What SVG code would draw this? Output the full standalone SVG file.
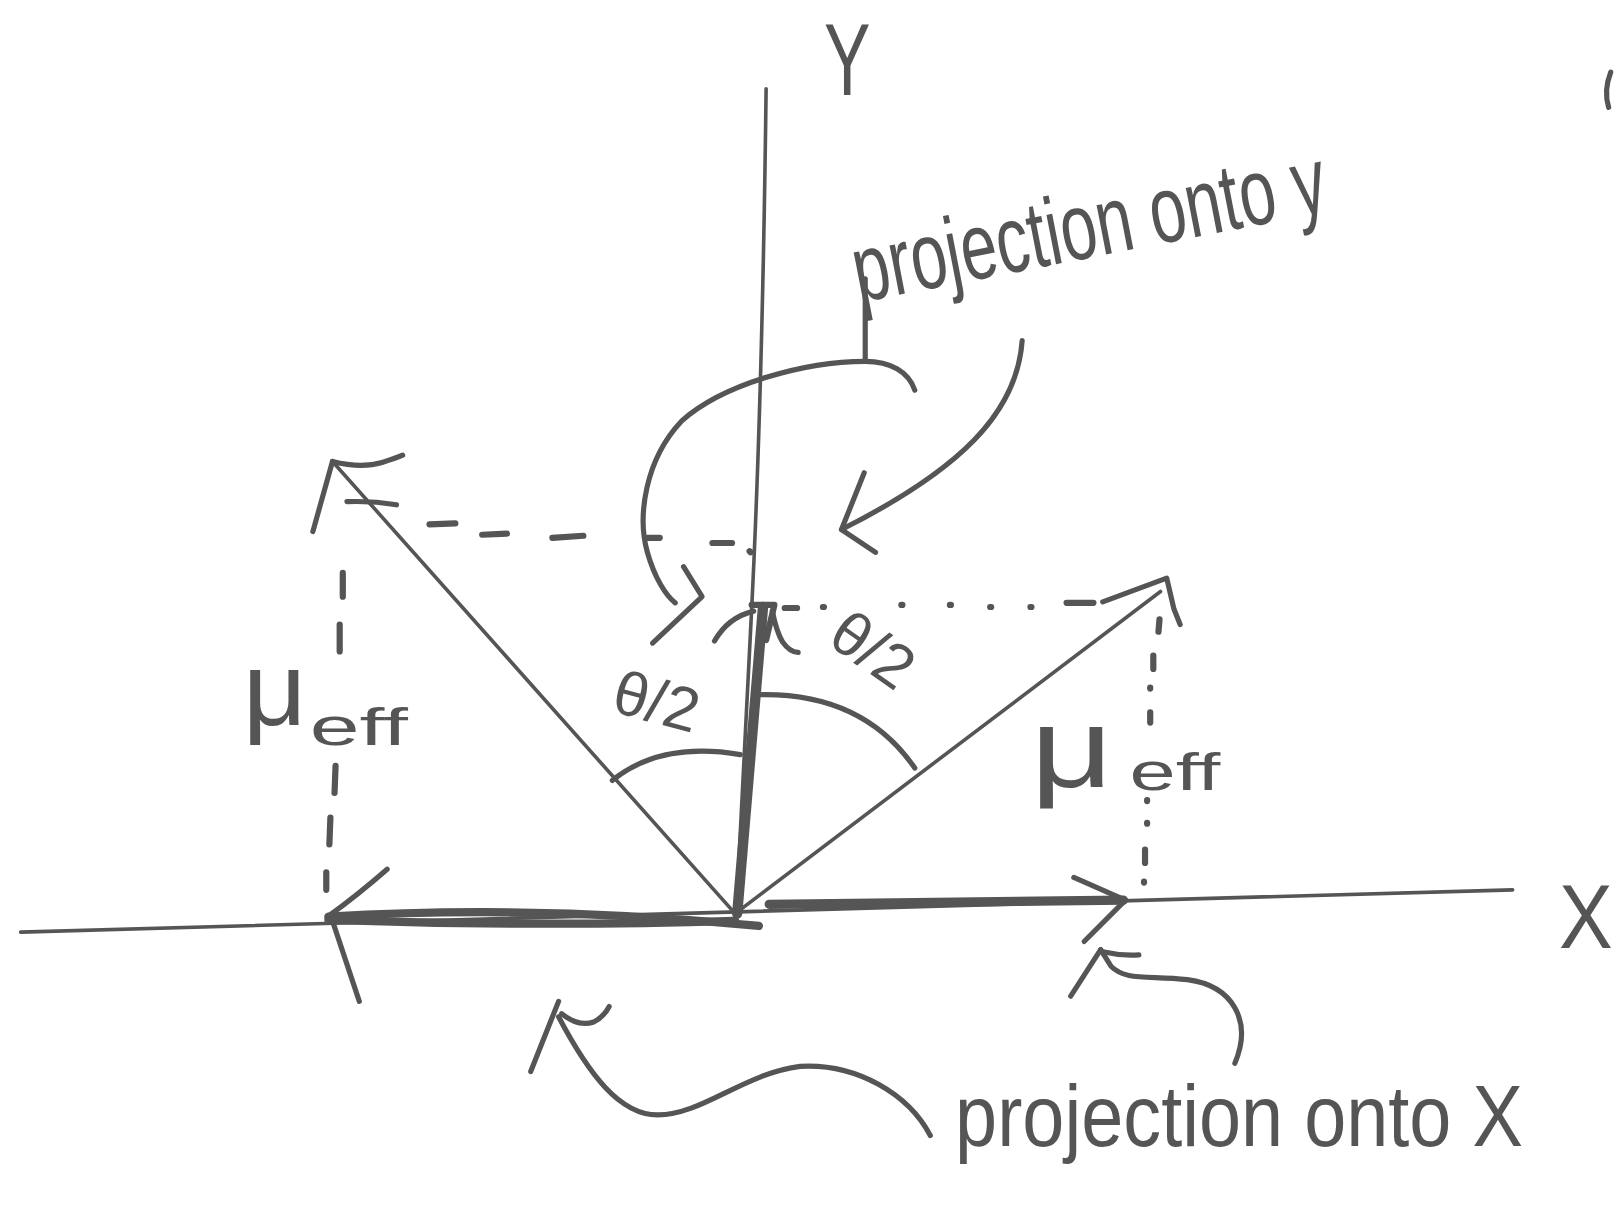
<svg xmlns="http://www.w3.org/2000/svg" width="1619" height="1213" viewBox="0 0 1619 1213">
<style>
.ln{fill:none;stroke:#555;stroke-linecap:round;stroke-linejoin:round}
.thin{stroke-width:3.5}
.med{stroke-width:5}
.thick{stroke-width:10}
.dash{fill:none;stroke:#555;stroke-width:6;stroke-linecap:round}
.hw{font-family:"Liberation Sans","DejaVu Sans",sans-serif;fill:#555}
</style>
<rect width="1619" height="1213" fill="#fff"/>
<g transform="scale(1.0325 1.0323)">
<g id="axes">
<path class="ln thin" d="M742,86 C740,250 735,450 728,590 L713,885"/>
<path class="ln thin" d="M20,903 L1465,862"/>
<text class="hw" x="798" y="92" font-size="98" textLength="45" lengthAdjust="spacingAndGlyphs">Y</text>
<text class="hw" x="1510" y="918" font-size="88" textLength="52" lengthAdjust="spacingAndGlyphs">X</text>
</g>
<g id="y-component">
<path class="ln thick" d="M739,588 L714,885"/>
<path class="ln" stroke-width="6" d="M728,586 L750,586 L742,620"/>
<path class="ln med" d="M692,621 Q705,598 730,592"/>
<path class="ln med" d="M748,592 Q752,612 758,622 Q765,632 773,632"/>
</g>
<g id="x-components">
<path class="ln" stroke-width="8" d="M318,888 Q520,876 735,897"/>
<path class="ln" stroke-width="8" d="M318,891 Q520,898 712,892"/>
<path class="ln med" d="M375,842 Q345,868 320,886 L348,970"/>
<path class="ln" stroke-width="9" d="M745,876 L1088,872"/>
<path class="ln med" d="M1040,850 L1090,872 L1050,912"/>
</g>
<g id="vector-left">
<path class="ln thin" d="M712,885 L322,447"/>
<path class="ln med" d="M322,447 Q350,454 370,448 Q383,444 390,441"/>
<path class="ln med" d="M322,447 L303,515"/>
<path class="ln med" d="M336,486 Q360,485 384,489"/>
</g>
<g id="vector-right">
<path class="ln thin" d="M712,885 L1124,573"/>
<path class="ln med" d="M1068,583 L1130,560 L1137,590 L1143,605"/>
</g>
<g id="projection-lines">
<path class="dash" d="M416,508 L441,507 M467,518 L491,517 M535,521 L565,519 M627,521 L639,521 M690,526 L709,526 M726,534 L727,535"/>
<path class="dash" d="M332,555 L332,578 M329,605 L329,631 M325,742 L324,768 M320,792 L319,818 M316,845 L316,862"/>
<path class="dash" d="M760,589 L772,589 M797,588 L798,588 M873,586 L874,586 M920,586 L921,586 M959,588 L960,588 M998,588 L999,588 M1033,584 L1059,584"/>
<path class="dash" d="M1123,600 L1122,612 M1117,635 L1117,648 M1114,666 L1114,667 M1114,690 L1114,700 M1111,775 L1111,776 M1111,797 L1111,798 M1109,823 L1109,836 M1108,854 L1108,855"/>
</g>
<g id="angles">
<path class="ln med" d="M593,756 Q640,718 717,731"/>
<path class="ln med" d="M733,673 Q835,670 886,744"/>
<text class="hw" x="635" y="700" font-size="60" text-anchor="middle" transform="rotate(15 635 683)">θ/2</text>
<text class="hw" x="845" y="650" font-size="60" text-anchor="middle" transform="rotate(35 845 630)">θ/2</text>
</g>
<g id="moment-labels">
<text class="hw" x="235" y="702" font-size="100" textLength="62" lengthAdjust="spacingAndGlyphs">μ</text>
<text class="hw" x="300" y="722" font-size="50" textLength="95" lengthAdjust="spacingAndGlyphs">eff</text>
<text class="hw" x="998" y="762" font-size="110" textLength="80" lengthAdjust="spacingAndGlyphs">μ</text>
<text class="hw" x="1094" y="765" font-size="50" textLength="88" lengthAdjust="spacingAndGlyphs">eff</text>
</g>
<g id="annotation-y">
<text class="hw" x="832" y="293" font-size="92" textLength="465" lengthAdjust="spacingAndGlyphs" transform="rotate(-11 832 293)">projection onto y</text>
<path class="ln med" d="M838,270 L838,350"/>
<path class="ln med" d="M886,378 C880,360 862,350 838,350 C780,350 700,372 660,408 C625,445 617,500 627,535 C634,560 645,577 654,584"/>
<path class="ln med" d="M662,549 L680,578 L632,623"/>
<path class="ln med" d="M990,330 C985,400 930,455 815,513"/>
<path class="ln med" d="M837,458 L815,513 L848,535"/>
</g>
<g id="annotation-x">
<text class="hw" x="925" y="1110" font-size="84" textLength="550" lengthAdjust="spacingAndGlyphs">projection onto X</text>
<path class="ln med" d="M541,985 C570,1040 600,1080 637,1080 C680,1080 720,1040 775,1033 C830,1030 880,1060 901,1100"/>
<path class="ln med" d="M541,970 L514,1038 M544,982 Q560,995 575,990 Q585,985 590,975"/>
<path class="ln med" d="M1196,1030 C1213,990 1195,955 1150,949 C1110,945 1090,950 1076,936 L1066,920"/>
<path class="ln med" d="M1066,920 L1037,965 M1068,922 Q1085,926 1103,925"/>
</g>
<g id="edge-mark">
<path class="ln med" d="M1560,70 Q1553,88 1558,104"/>
</g>
</g>
</svg>
